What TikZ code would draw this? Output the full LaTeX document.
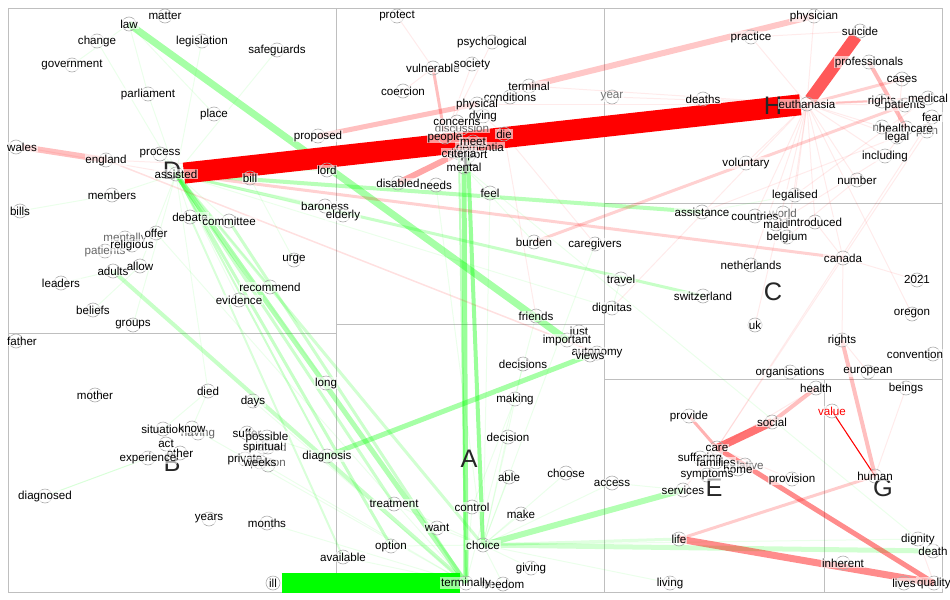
\documentclass[tikz,border=0pt]{standalone}
\usepackage{fontspec}
\setmainfont{Liberation Sans}
\pgfdeclarelayer{bg}
\pgfdeclarelayer{mid}
\pgfsetlayers{bg,mid,main}
\begin{document}
\begin{tikzpicture}[x=0.75pt,y=-0.75pt,
 wd/.style={font=\fontsize{8.7}{10}\selectfont, inner sep=0.6pt, fill=white, fill opacity=0.6, text opacity=1},
 dot/.style={circle, draw=gray!65, line width=0.45pt, minimum size=10.5pt, inner sep=0pt},
 big/.style={font=\fontsize{19}{20}\selectfont, text=black!85, inner sep=0pt},
 frame/.style={draw=gray!50, line width=0.75pt},
 ge/.style 2 args={draw=green, line width=#1*0.75pt, draw opacity=#2},
 re/.style 2 args={draw=red, line width=#1*0.75pt, draw opacity=#2}]
\begin{pgfonlayer}{bg}
\fill[white] (0,0) rectangle (950,600);
\end{pgfonlayer}
\useasboundingbox (0,0) rectangle (950,600);

% hidden / grey words first
\foreach \n/\x/\y/\t in {mentally/125/238/mentally, patientsD/105/251/patients, discussion/462/128/discussion, having/198/433/having, wanted/268/447/wanted, person/268/465/person, world/783/213/world, relative/745/465/relative, pain/927/131/pain, nhs/882/127/nhs}{
 \begin{pgfonlayer}{mid}\node[dot] at (\x,\y) {};\end{pgfonlayer}
 \node[wd, text=black!60] (\n) at (\x,\y) {\t};
}
% words
\foreach \n/\x/\y/\t in {law/129/24/law, matter/165/16/matter, change/97/41/change, legislation/202/41/legislation, government/72/65/government, safeguards/277/50/safeguards, parliament/148/94/parliament, place/214/114/place, england/106/160/england, process/160/154/process, assisted/176/174/assisted, bill/250/178/bill, proposed/318/136/proposed, lord/327/170/lord, members/112/195/members, bills/20/211/bills, debate/190/217/debate, committee/229/221/committee, baroness/325/206/baroness, elderly/343/215/elderly, offer/156/233/offer, religious/132/245/religious, adults/113/271/adults, allow/140/266/allow, leaders/61/283/leaders, urge/294/260/urge, recommend/270/287/recommend, evidence/239/300/evidence, beliefs/93/310/beliefs, groups/133/325/groups, mother/95/395/mother, died/208/391/died, days/253/401/days, long/326/383/long, situation/163/429/situation, know/192/428/know, act/166/444/act, other/180/453/other, suffer/247/433/suffer, spiritual/263/447/spiritual, possible/267/437/possible, private/245/459/private, weeks/260/462/weeks, experience/148/458/experience, diagnosis/327/456/diagnosis, diagnosed/45/496/diagnosed, years/209/519/years, months/267/523/months, ill/273/583/ill, protect/397/16/protect, psychological/492/42/psychological, vulnerable/433/68/vulnerable, society/472/64/society, coercion/403/91/coercion, terminal/529/86/terminal, conditions/510/97/conditions, physical/477/104/physical, dying/483/116/dying, concerns/457/122/concerns, people/445/137/people, die/504/134/die, dementia/480/147/dementia, meet/473/142/meet, support/468/156/support, criteria/459/153/criteria, mental/464/167/mental, disabled/398/183/disabled, needs/436/185/needs, feel/490/193/feel, burden/534/242/burden, caregivers/595/244/caregivers, friends/536/316/friends, just/579/332/just, important/567/340/important, autonomy/597/353/autonomy, views/590/355/views, decisions/523/364/decisions, making/515/399/making, decision/508/437/decision, able/509/477/able, choose/566/473/choose, control/472/507/control, make/521/514/make, treatment/394/504/treatment, want/437/528/want, option/391/546/option, choice/483/545/choice, available/343/557/available, giving/531/568/giving, freedom/503/584/freedom, terminally/466/583/terminally, dignitas/612/308/dignitas, travel/621/279/travel, access/612/483/access, physician/814/16/physician, practice/751/37/practice, suicide/860/31/suicide, professionals/869/62/professionals, cases/902/79/cases, deaths/703/99/deaths, euthanasia/807/104/euthanasia, rightsH/882/101/rights, patients/905/105/patients, medical/928/98/medical, fear/932/117/fear, healthcare/906/128/healthcare, legal/897/137/legal, including/885/156/including, voluntary/746/163/voluntary, number/857/180/number, legalised/795/195/legalised, assistance/702/212/assistance, countries/755/216/countries, maid/776/224/maid, introduced/815/222/introduced, belgium/787/237/belgium, netherlands/751/265/netherlands, canada/843/258/canada, y2021/917/280/2021, switzerland/703/296/switzerland, oregon/912/314/oregon, uk/755/325/uk, rights/842/340/rights, organisations/790/372/organisations, european/868/372/european, health/816/388/health, beings/906/388/beings, provide/689/416/provide, social/772/422/social, care/717/448/care, suffering/700/458/suffering, families/716/462/families, home/738/469/home, symptoms/707/475/symptoms, services/683/490/services, provision/792/479/provision, life/679/539/life, living/670/583/living, human/875/476/human, dignity/918/539/dignity, death/933/551/death, inherent/843/563/inherent, lives/904/583/lives, quality/934/583/quality}{
 \begin{pgfonlayer}{mid}\node[dot] at (\x,\y) {};\end{pgfonlayer}
 \node[wd] (\n) at (\x,\y) {\t};
}
% words whose circle is offset
\begin{pgfonlayer}{mid}
\node[dot] at (16,147) {};
\node[dot] at (16,341) {};
\node[dot] at (933,354) {};
\node[dot] at (832,411) {};
\node[dot] at (612,97) {};
\end{pgfonlayer}
\node[wd] (wales) at (22,147) {wales};
\node[wd] (father) at (22,341) {father};
\node[wd] (convention) at (915,354) {convention};
\node[wd, text=red] (value) at (832,411) {value};
\node[wd, text=black!55] (year) at (612,97) {year};

% region letters
\begin{pgfonlayer}{mid}
\node[big] (lblD) at (172,171) {D};
\node[big] (lblB) at (172,463) {B};
\node[big] (lblF) at (470,165) {F};
\node[big] (lblA) at (469,459) {A};
\node[big] (lblH) at (773,106) {H};
\node[big] (lblC) at (773,292) {C};
\node[big] (lblE) at (714,488) {E};
\node[big] (lblG) at (883,488) {G};
\end{pgfonlayer}

\begin{pgfonlayer}{bg}
\draw[frame] (8,8) rectangle (942,592);
\draw[frame] (336,8) -- (336,592);
\draw[frame] (604,8) -- (604,592);
\draw[frame] (8,333) -- (336,333);
\draw[frame] (336,324) -- (604,324);
\draw[frame] (604,203) -- (942,203);
\draw[frame] (604,379) -- (942,379);
\draw[frame] (824,379) -- (824,592);

% faint green web
\foreach \a/\b in {law/parliament, parliament/assisted, legislation/assisted, change/assisted, process/assisted, members/assisted, debate/assisted, committee/assisted, evidence/assisted, recommend/assisted, urge/bill, groups/assisted, baroness/assisted, elderly/assisted, lord/assisted, long/assisted, days/terminally, months/terminally, died/assisted, know/terminally, possible/diagnosis, weeks/terminally, treatment/choice, want/choice, make/choice, able/choice, decision/choice, making/control, giving/choice, freedom/choice, choose/choice, access/choice, available/terminally, option/choice, dignitas/assisted, friends/terminally, burden/mental, caregivers/choice, feel/choice, needs/choice, dignity/choice, living/choice, situation/died, know/died, offer/terminally, allow/assisted, leaders/adults, beliefs/allow, bills/members, government/law, place/law, safeguards/assisted, decisions/choice, access/services, control/terminally, mental/dignity, travel/dignitas, legalised/assistance, countries/assistance}
 \draw[ge={1}{0.08}] (\a.center) -- (\b.center);
% faint red web
\foreach \a/\b in {euthanasia/legalised, euthanasia/voluntary, euthanasia/deaths, euthanasia/practice, euthanasia/physician, euthanasia/patients, euthanasia/number, euthanasia/introduced, euthanasia/countries, euthanasia/canada, euthanasia/belgium, euthanasia/netherlands, euthanasia/including, euthanasia/nhs, euthanasia/legal, euthanasia/year, healthcare/including, medical/legalised, fear/care, pain/care, legal/assistance, canada/y2021, oregon/euthanasia, care/families, care/home, care/symptoms, care/suffering, care/services, care/provision, care/health, care/relative, rights/european, quality/dignity, beings/human, people/die, concerns/die, coercion/vulnerable, psychological/people, society/people, protect/vulnerable, terminal/conditions, die/dying, euthanasia/terminal, physical/euthanasia, number/belgium, including/maid, introduced/canada, uk/euthanasia, rights/canada, dignitas/euthanasia, caregivers/die, friends/die, assisted/bill, wales/assisted, england/lord, suicide/practice, cases/legal}
 \draw[re={1}{0.08}] (\a.center) -- (\b.center);

% medium and strong green
\draw[ge={7}{0.35}] (law.center) -- (important.center);
\draw[ge={5}{0.4}] (mental.center) -- (terminally.center);
\draw[ge={4}{0.4}] (support.center) -- (choice.center);
\draw[ge={2}{0.25}] (criteria.center) -- (terminally.center);
\draw[ge={5}{0.3}] (assisted.center) -- (terminally.center);
\draw[ge={3}{0.22}] (assisted.center) -- (option.center);
\draw[ge={3}{0.2}] (assisted.center) -- (treatment.center);
\draw[ge={3}{0.18}] (assisted.center) -- (choice.center);
\draw[ge={2}{0.2}] (assisted.center) -- (diagnosis.center);
\draw[ge={3}{0.2}] (committee.center) -- (terminally.center);
\draw[ge={4}{0.22}] (adults.center) -- (terminally.center);
\draw[ge={4}{0.28}] (assisted.center) -- (assistance.center);
\draw[ge={3}{0.22}] (assisted.center) -- (switzerland.center);
\draw[ge={5}{0.35}] (diagnosis.center) -- (views.center);
\draw[ge={6}{0.3}] (choice.center) -- (services.center);
\draw[ge={5}{0.18}] (choice.center) -- (death.center);
\draw[ge={3}{0.12}] (choice.center) -- (life.center);
\draw[ge={1}{0.15}] (experience.center) -- (diagnosed.center);
\draw[ge={2}{0.15}] (debate.center) -- (available.center);
\draw[ge={20}{1}, shorten <=6.5pt, shorten >=4.5pt] (ill.center) -- (terminally.center);

% medium and strong red
\draw[re={6}{0.25}] (wales.center) -- (england.center);
\draw[re={5}{0.25}] (proposed.center) -- (physical.center);
\draw[re={6}{0.22}] (terminal.center) -- (physician.center);
\draw[re={6}{0.35}] (disabled.center) -- (criteria.center);
\draw[re={3}{0.25}] (vulnerable.center) -- (people.center);
\draw[re={4}{0.28}] (professionals.center) -- (healthcare.center);
\draw[re={3}{0.18}] (euthanasia.center) -- (cases.center);
\draw[re={2}{0.15}] (euthanasia.center) -- (rightsH.center);
\draw[re={2}{0.12}] (euthanasia.center) -- (medical.center);
\draw[re={3}{0.18}] (assisted.center) -- (canada.center);
\draw[re={3}{0.18}] (burden.center) -- (patients.center);
\draw[re={1.5}{0.12}] (england.center) -- (autonomy.center);
\draw[re={4}{0.25}] (rights.center) -- (human.center);
\draw[re={3}{0.2}] (human.center) -- (life.center);
\draw[re={4}{0.25}] (social.center) -- (health.center);
\draw[re={3}{0.3}] (provide.center) -- (care.center);
\draw[re={5}{0.45}] (care.center) -- (quality.center);
\draw[re={7}{0.45}] (life.center) -- (quality.center);
\draw[re={8}{0.55}] (care.center) -- (social.center);
\draw[re={12}{0.65}, shorten <=5pt, shorten >=4pt] (suicide.center) -- (euthanasia.center);
\draw[re={21}{1}, shorten <=6pt, shorten >=5pt] (assisted.center) -- (euthanasia.center);
\draw[draw=red, line width=0.8pt] (value.center) -- (human.center);
\end{pgfonlayer}
\end{tikzpicture}
\end{document}
